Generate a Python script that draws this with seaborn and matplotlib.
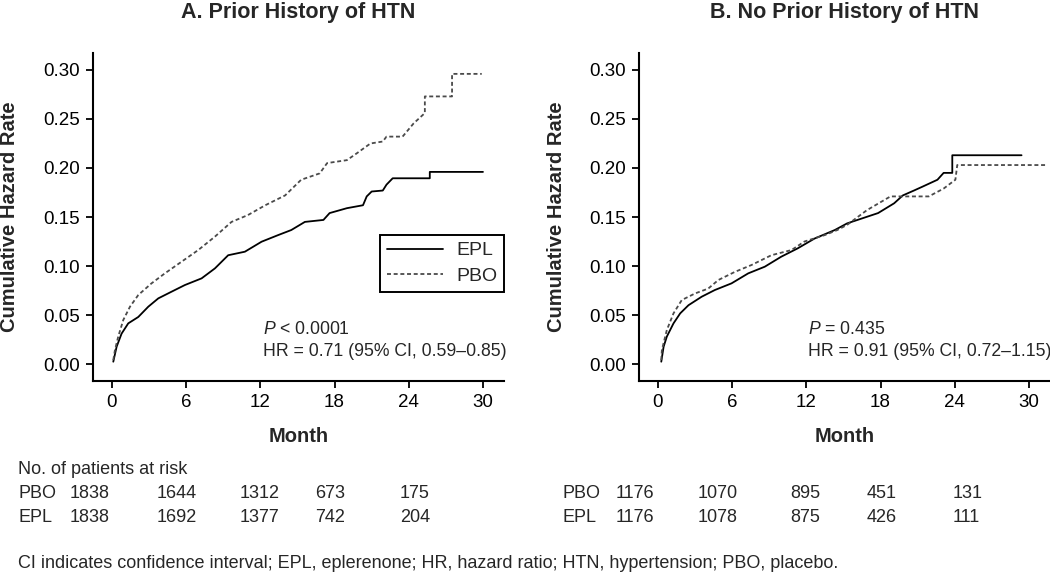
import numpy as np
import pandas as pd
import matplotlib
matplotlib.use("Agg")
import matplotlib.pyplot as plt
import seaborn as sns

# ---------------- data ----------------
a_epl_month = [0.11, 0.38, 0.78, 1.32, 2.13, 2.94, 3.75, 4.82, 5.9, 7.25, 8.33, 9.4, 10.75,
               12.1, 13.45, 14.5, 15.6, 17.1, 17.6, 19.0, 20.3, 20.6, 21.0, 21.9,
               22.2, 22.7, 25.7, 25.7, 30.0]
a_epl_rate = [0.0024, 0.0177, 0.031, 0.0415, 0.048, 0.0585, 0.067, 0.0738, 0.0806, 0.0874,
              0.0976, 0.111, 0.1146, 0.1248, 0.1316, 0.1367, 0.145, 0.147, 0.154, 0.159,
              0.162, 0.171, 0.176, 0.177, 0.183, 0.1895, 0.1895, 0.196, 0.196]

a_pbo_month = [0.11, 0.24, 0.51, 0.92, 1.46, 2.13, 3.2, 4.28, 5.63, 6.98, 8.33, 9.67, 11.0,
               12.4, 14.0, 15.3, 16.8, 17.4, 19.0, 19.8, 20.9, 21.9, 22.2, 23.5, 24.4,
               25.3, 25.3, 27.5, 27.5, 29.9]
a_pbo_rate = [0.004, 0.014, 0.028, 0.045, 0.0585, 0.0704, 0.0823, 0.0925, 0.1044, 0.1163,
              0.130, 0.145, 0.152, 0.162, 0.172, 0.188, 0.1945, 0.205, 0.208, 0.215, 0.225,
              0.227, 0.232, 0.232, 0.2456, 0.256, 0.273, 0.273, 0.296, 0.296]

b_epl_month = [0.27, 0.46, 0.72, 1.26, 1.8, 2.47, 3.54, 4.6, 5.95, 7.3, 8.64, 9.97, 11.3,
               12.66, 14.3, 15.3, 17.8, 19.1, 19.8, 20.7, 21.4, 22.6, 23.1, 23.8, 23.8, 29.4]
b_epl_rate = [0.0024, 0.0177, 0.028, 0.0415, 0.0517, 0.060, 0.0687, 0.0755, 0.0823, 0.0925,
              0.0993, 0.1095, 0.118, 0.128, 0.1367, 0.1435, 0.154, 0.164, 0.172, 0.177,
              0.181, 0.188, 0.195, 0.195, 0.213, 0.213]

b_pbo_month = [0.27, 0.32, 0.72, 1.26, 1.93, 3.0, 4.07, 4.88, 6.22, 7.56, 9.17, 10.8, 11.85,
               13.5, 14.5, 15.3, 16.9, 18.8, 21.9, 23.1, 24.05, 24.2, 31.4]
b_pbo_rate = [0.004, 0.0143, 0.0347, 0.0517, 0.0653, 0.072, 0.077, 0.0857, 0.094, 0.101,
              0.111, 0.1163, 0.125, 0.1316, 0.1367, 0.142, 0.157, 0.171, 0.171, 0.179,
              0.188, 0.203, 0.203]

panel_titles = ["A. Prior History of HTN", "B. No Prior History of HTN"]
p_texts = [" < 0.0001", " = 0.435"]
hr_texts = ["HR = 0.71 (95% CI, 0.59\u20130.85)", "HR = 0.91 (95% CI, 0.72\u20131.15)"]
x_ticks = [0, 6, 12, 18, 24, 30]
y_ticks = [0.00, 0.05, 0.10, 0.15, 0.20, 0.25, 0.30]

risk_a_pbo = ["1838", "1644", "1312", "673", "175"]
risk_a_epl = ["1838", "1692", "1377", "742", "204"]
risk_b_pbo = ["1176", "1070", "895", "451", "131"]
risk_b_epl = ["1176", "1078", "875", "426", "111"]
footnote = ("CI indicates confidence interval; EPL, eplerenone; HR, hazard ratio; "
            "HTN, hypertension; PBO, placebo.")

# ---------------- style ----------------
sns.set_theme(style="ticks")
plt.rcParams["font.family"] = ["Liberation Sans", "DejaVu Sans"]
plt.rcParams["mathtext.fontset"] = "custom"
plt.rcParams["mathtext.rm"] = "Liberation Sans"
plt.rcParams["mathtext.it"] = "Liberation Sans:italic"

W, H = 1050, 581
fig = plt.figure(figsize=(W / 100, H / 100), dpi=100)
fig.patch.set_facecolor("white")


def fx(px):
    return px / W


def fy(py):
    return 1 - py / H


ax_left_px = [93, 639]
ax_w_px = 411
ax_top_px, ax_bot_px = 53, 381
ax_h_px = ax_bot_px - ax_top_px

series = [
    (a_epl_month, a_epl_rate, a_pbo_month, a_pbo_rate),
    (b_epl_month, b_epl_rate, b_pbo_month, b_pbo_rate),
]
text_x_px = [263, 808]

for i in range(2):
    ax = fig.add_axes([fx(ax_left_px[i]), fy(ax_bot_px), ax_w_px / W, ax_h_px / H])
    em, er, pm, pr = series[i]
    df_e = pd.DataFrame({"Month": em, "Rate": er})
    df_p = pd.DataFrame({"Month": pm, "Rate": pr})
    sns.lineplot(data=df_e, x="Month", y="Rate", ax=ax, color="black", linewidth=1.3,
                 estimator=None, sort=False, label="EPL")
    sns.lineplot(data=df_p, x="Month", y="Rate", ax=ax, color="#4a4a4a", linewidth=1.3,
                 estimator=None, sort=False, label="PBO")
    ax.lines[-1].set_dashes([2.2, 1.5])

    ax.set_xlim(-1.53, 31.7)
    ax.set_ylim(-0.0173, 0.3173)
    ax.set_xticks(x_ticks)
    ax.set_yticks(y_ticks)
    ax.set_yticklabels([f"{v:.2f}" for v in y_ticks])
    for s in ["top", "right"]:
        ax.spines[s].set_visible(False)
    for s in ["left", "bottom"]:
        ax.spines[s].set_linewidth(1.5)
        ax.spines[s].set_color("black")
    ax.tick_params(axis="both", direction="out", length=5, width=1.3, colors="black",
                   labelsize=13.5, pad=4.5)

    ax.set_title(panel_titles[i], fontsize=15.5, fontweight="bold", pad=25)
    ax.set_xlabel("Month", fontsize=14.5, fontweight="bold")
    ax.xaxis.set_label_coords(0.5, (ax_bot_px - 437) / ax_h_px)
    ax.xaxis.label.set_verticalalignment("center")
    ax.set_ylabel("Cumulative Hazard Rate", fontsize=14.5, fontweight="bold")
    ax.yaxis.set_label_coords(-83 / ax_w_px, 0.5)
    ax.yaxis.label.set_verticalalignment("center")

    tx = (text_x_px[i] - ax_left_px[i]) / ax_w_px
    ax.text(tx, (ax_bot_px - 330) / ax_h_px, r"$\mathit{P}$" + p_texts[i],
            transform=ax.transAxes, fontsize=12.7, ha="left", va="center")
    ax.text(tx, (ax_bot_px - 352) / ax_h_px, hr_texts[i],
            transform=ax.transAxes, fontsize=12.7, ha="left", va="center")

    if i == 0:
        leg = ax.legend(loc="upper right",
                        bbox_to_anchor=(1.0, (ax_bot_px - 235) / ax_h_px),
                        borderaxespad=0, frameon=True, fancybox=False, fontsize=14,
                        handlelength=2.9, handletextpad=0.65, borderpad=0.35,
                        labelspacing=0.4)
        leg.get_frame().set_edgecolor("black")
        leg.get_frame().set_linewidth(1.4)
        leg.get_frame().set_alpha(1)
    else:
        ax.get_legend().remove()

# ---------------- risk table ----------------
fs_tab = 13
fig.text(fx(18), fy(470), "No. of patients at risk", fontsize=fs_tab, ha="left", va="center")
cols_a = [70, 157, 240, 315, 400]
cols_b = [616, 698, 790, 867, 953]
for lab_x, cols, pbo, epl in [(18, cols_a, risk_a_pbo, risk_a_epl),
                              (562, cols_b, risk_b_pbo, risk_b_epl)]:
    fig.text(fx(lab_x), fy(493), "PBO", fontsize=fs_tab, ha="left", va="center")
    fig.text(fx(lab_x), fy(517), "EPL", fontsize=fs_tab, ha="left", va="center")
    for cx, vp, ve in zip(cols, pbo, epl):
        fig.text(fx(cx), fy(493), vp, fontsize=fs_tab, ha="left", va="center")
        fig.text(fx(cx), fy(517), ve, fontsize=fs_tab, ha="left", va="center")

fig.text(fx(18), fy(564), footnote, fontsize=fs_tab, ha="left", va="center")

fig.savefig("out.png", dpi=100, facecolor="white")
